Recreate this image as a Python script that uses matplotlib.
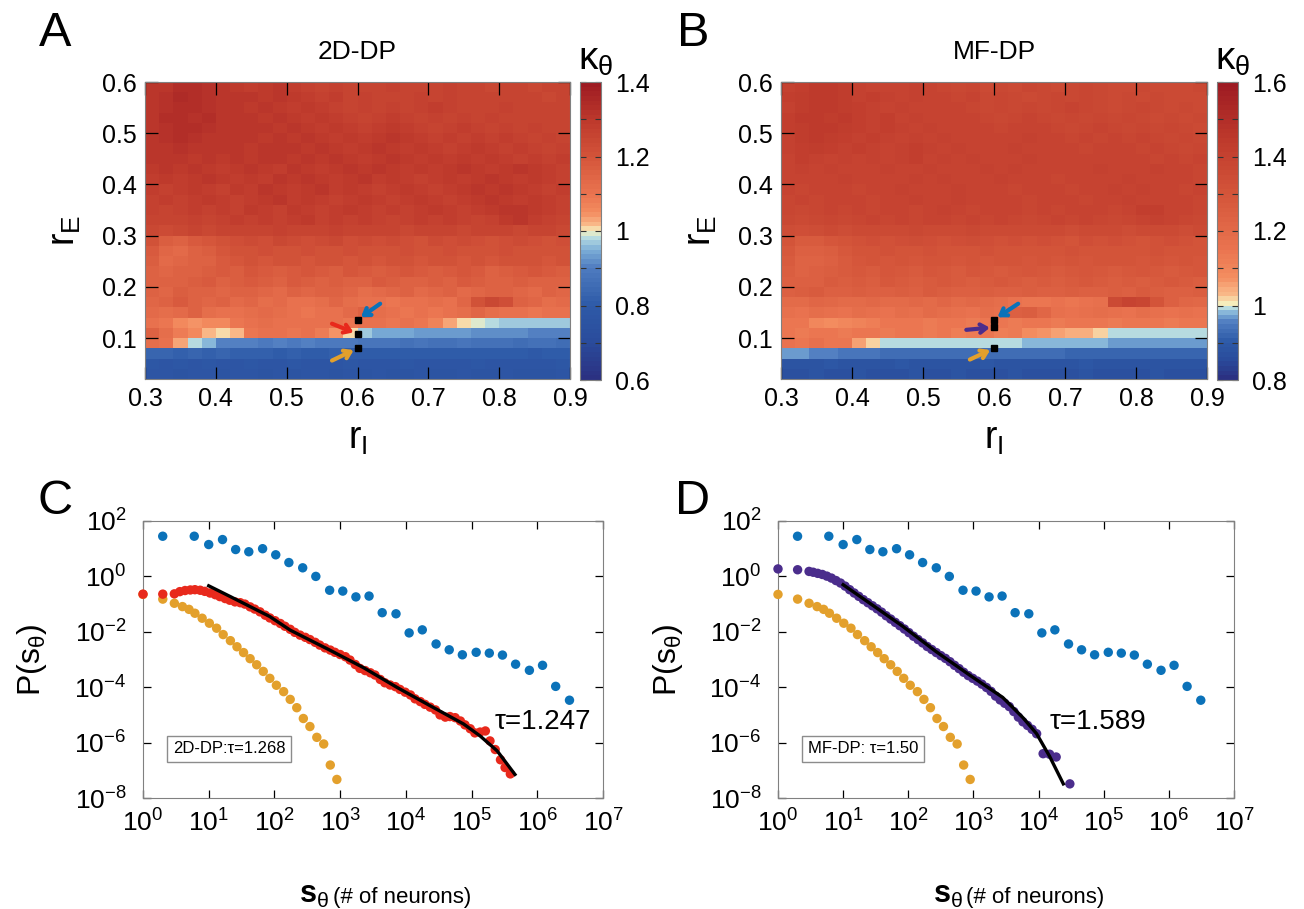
import numpy as np
import matplotlib
matplotlib.use('Agg')
import matplotlib.pyplot as plt
from matplotlib.colors import LinearSegmentedColormap, ListedColormap, Normalize, TwoSlopeNorm
from matplotlib.ticker import FixedLocator

plt.rcParams['font.family'] = ['Liberation Sans', 'DejaVu Sans']
plt.rcParams['mathtext.fontset'] = 'custom'
plt.rcParams['mathtext.rm'] = 'Liberation Sans'
plt.rcParams['mathtext.it'] = 'Liberation Sans'
plt.rcParams['mathtext.bf'] = 'Liberation Sans:bold'
plt.rcParams['mathtext.default'] = 'regular'

# ---------------- heatmap data (rows from r_E=0.02 upwards, cols r_I 0.30 -> 0.90) ----------------
rI_edges = np.linspace(0.30, 0.90, 31)
rE_edges = np.linspace(0.02, 0.60, 30)

kappa_2d_rows = [
    "0.77 0.77 0.76 0.77 0.77 0.76 0.77 0.77 0.76 0.77 0.76 0.77 0.77 0.76 0.77 0.76 0.77 0.76 0.76 0.77 0.76 0.76 0.77 0.76 0.76 0.77 0.76 0.76 0.76 0.77",
    "0.78 0.77 0.78 0.77 0.78 0.77 0.77 0.78 0.77 0.77 0.78 0.77 0.77 0.77 0.78 0.77 0.77 0.77 0.78 0.77 0.77 0.77 0.77 0.78 0.77 0.77 0.77 0.77 0.77 0.78",
    "0.83 0.83 0.82 0.83 0.82 0.83 0.82 0.82 0.82 0.81 0.82 0.81 0.81 0.82 0.81 0.81 0.80 0.81 0.80 0.81 0.80 0.80 0.81 0.80 0.80 0.80 0.80 0.79 0.80 0.80",
    "1.12 1.10 1.03 0.98 0.95 0.90 0.90 0.90 0.89 0.90 0.89 0.90 0.89 0.89 0.89 0.88 0.88 0.88 0.87 0.88 0.87 0.87 0.88 0.87 0.87 0.87 0.86 0.87 0.87 0.86",
    "1.16 1.12 1.08 1.06 1.02 1.00 1.02 1.09 1.10 1.11 1.09 1.10 1.08 1.04 1.00 0.97 0.945 0.94 0.94 0.93 0.93 0.93 0.93 0.92 0.92 0.92 0.92 0.91 0.91 0.91",
    "1.10 1.09 1.05 1.04 1.05 1.06 1.09 1.11 1.12 1.11 1.10 1.11 1.10 1.10 1.09 1.11 1.10 1.09 1.10 1.09 1.07 1.03 1.00 0.99 0.975 0.965 0.965 0.965 0.965 0.965",
    "1.13 1.12 1.13 1.15 1.12 1.10 1.11 1.12 1.13 1.12 1.10 1.09 1.10 1.11 1.13 1.15 1.12 1.10 1.09 1.10 1.09 1.10 1.12 1.14 1.12 1.10 1.11 1.09 1.10 1.10",
    "1.14 1.16 1.18 1.15 1.14 1.15 1.13 1.14 1.12 1.13 1.10 1.11 1.12 1.14 1.12 1.11 1.10 1.09 1.10 1.11 1.12 1.10 1.14 1.21 1.24 1.22 1.16 1.14 1.12 1.13",
    "1.15 1.14 1.17 1.16 1.15 1.14 1.16 1.15 1.14 1.13 1.15 1.14 1.16 1.15 1.14 1.12 1.13 1.14 1.15 1.13 1.14 1.15 1.13 1.14 1.15 1.16 1.14 1.13 1.15 1.14",
    "1.16 1.15 1.15 1.17 1.18 1.16 1.17 1.18 1.17 1.16 1.18 1.17 1.16 1.17 1.15 1.16 1.18 1.17 1.16 1.15 1.17 1.16 1.18 1.17 1.16 1.15 1.17 1.16 1.15 1.16",
    "1.16 1.14 1.15 1.16 1.17 1.18 1.17 1.19 1.18 1.17 1.18 1.19 1.18 1.17 1.19 1.18 1.17 1.18 1.19 1.18 1.17 1.18 1.19 1.18 1.16 1.17 1.18 1.19 1.18 1.17",
    "1.17 1.13 1.14 1.15 1.16 1.18 1.19 1.20 1.19 1.21 1.20 1.19 1.20 1.21 1.19 1.20 1.19 1.21 1.20 1.19 1.20 1.21 1.19 1.20 1.19 1.20 1.21 1.20 1.19 1.20",
    "1.18 1.14 1.13 1.15 1.17 1.19 1.20 1.21 1.22 1.21 1.20 1.22 1.21 1.20 1.22 1.21 1.20 1.21 1.22 1.21 1.20 1.22 1.21 1.20 1.21 1.22 1.20 1.21 1.20 1.21",
    "1.20 1.17 1.16 1.18 1.19 1.21 1.22 1.23 1.22 1.24 1.23 1.22 1.23 1.24 1.22 1.23 1.22 1.23 1.22 1.21 1.23 1.22 1.23 1.22 1.21 1.22 1.23 1.22 1.21 1.22",
    "1.24 1.23 1.24 1.25 1.24 1.25 1.26 1.25 1.26 1.27 1.26 1.25 1.26 1.27 1.25 1.26 1.25 1.26 1.24 1.25 1.26 1.25 1.24 1.25 1.26 1.25 1.24 1.26 1.25 1.24",
    "1.26 1.25 1.26 1.27 1.26 1.27 1.28 1.27 1.28 1.27 1.28 1.29 1.27 1.28 1.27 1.28 1.27 1.26 1.27 1.28 1.27 1.28 1.27 1.26 1.27 1.29 1.30 1.28 1.27 1.26",
    "1.27 1.26 1.27 1.28 1.27 1.28 1.27 1.29 1.28 1.27 1.29 1.28 1.27 1.28 1.29 1.28 1.27 1.28 1.27 1.28 1.29 1.28 1.27 1.28 1.29 1.31 1.31 1.29 1.28 1.27",
    "1.27 1.28 1.27 1.28 1.29 1.28 1.27 1.28 1.29 1.30 1.28 1.29 1.28 1.27 1.28 1.29 1.28 1.27 1.28 1.29 1.28 1.27 1.28 1.29 1.30 1.29 1.28 1.29 1.28 1.27",
    "1.28 1.27 1.28 1.29 1.28 1.27 1.29 1.28 1.30 1.29 1.28 1.29 1.30 1.28 1.29 1.28 1.27 1.28 1.29 1.28 1.27 1.28 1.29 1.30 1.29 1.30 1.29 1.28 1.27 1.28",
    "1.28 1.29 1.28 1.29 1.30 1.29 1.28 1.29 1.28 1.30 1.29 1.30 1.29 1.28 1.29 1.30 1.28 1.29 1.28 1.27 1.28 1.29 1.28 1.29 1.30 1.29 1.28 1.29 1.28 1.27",
    "1.29 1.30 1.29 1.30 1.29 1.28 1.29 1.30 1.29 1.28 1.30 1.29 1.28 1.29 1.30 1.29 1.30 1.29 1.28 1.29 1.28 1.29 1.30 1.29 1.28 1.29 1.30 1.29 1.28 1.27",
    "1.30 1.31 1.30 1.29 1.30 1.29 1.30 1.29 1.30 1.31 1.29 1.30 1.29 1.30 1.29 1.28 1.29 1.30 1.29 1.28 1.29 1.28 1.29 1.28 1.29 1.28 1.27 1.28 1.27 1.28",
    "1.30 1.31 1.32 1.31 1.30 1.31 1.30 1.29 1.30 1.31 1.30 1.29 1.30 1.29 1.28 1.29 1.30 1.29 1.28 1.29 1.28 1.27 1.28 1.29 1.28 1.27 1.28 1.27 1.26 1.27",
    "1.30 1.32 1.33 1.32 1.31 1.30 1.31 1.30 1.29 1.30 1.29 1.30 1.29 1.28 1.29 1.28 1.29 1.30 1.29 1.28 1.27 1.28 1.27 1.28 1.27 1.28 1.27 1.26 1.27 1.26",
    "1.31 1.32 1.33 1.33 1.32 1.31 1.30 1.31 1.30 1.29 1.30 1.29 1.28 1.29 1.28 1.27 1.28 1.29 1.28 1.27 1.26 1.27 1.28 1.27 1.26 1.27 1.26 1.27 1.26 1.25",
    "1.31 1.33 1.33 1.32 1.33 1.31 1.30 1.31 1.29 1.30 1.29 1.28 1.29 1.28 1.27 1.26 1.27 1.28 1.27 1.26 1.27 1.26 1.27 1.26 1.27 1.26 1.25 1.26 1.25 1.26",
    "1.30 1.32 1.33 1.33 1.32 1.31 1.30 1.29 1.30 1.29 1.28 1.29 1.28 1.27 1.26 1.27 1.26 1.27 1.26 1.27 1.28 1.27 1.26 1.25 1.26 1.27 1.26 1.25 1.26 1.25",
    "1.31 1.32 1.34 1.33 1.32 1.30 1.31 1.30 1.29 1.30 1.29 1.28 1.27 1.28 1.26 1.27 1.26 1.25 1.26 1.27 1.26 1.27 1.26 1.25 1.26 1.25 1.26 1.25 1.24 1.25",
    "1.30 1.31 1.33 1.33 1.32 1.30 1.29 1.28 1.29 1.30 1.28 1.27 1.26 1.27 1.25 1.26 1.25 1.27 1.26 1.25 1.26 1.27 1.26 1.25 1.24 1.26 1.25 1.24 1.25 1.26",
]

kappa_mf_rows = [
    "0.87 0.87 0.88 0.87 0.87 0.88 0.87 0.87 0.87 0.88 0.87 0.87 0.88 0.87 0.87 0.87 0.88 0.87 0.87 0.87 0.87 0.88 0.87 0.87 0.87 0.87 0.88 0.87 0.87 0.87",
    "0.88 0.88 0.88 0.89 0.88 0.88 0.88 0.88 0.89 0.88 0.88 0.88 0.88 0.88 0.89 0.88 0.88 0.88 0.88 0.88 0.88 0.89 0.88 0.88 0.88 0.88 0.88 0.88 0.88 0.88",
    "0.972 0.968 0.955 0.952 0.95 0.948 0.94 0.935 0.935 0.932 0.932 0.93 0.93 0.93 0.928 0.928 0.926 0.926 0.925 0.925 0.924 0.922 0.922 0.92 0.92 0.918 0.918 0.916 0.916 0.915",
    "1.16 1.15 1.17 1.15 1.14 1.06 1.02 1.0 1.0 0.996 0.996 0.995 0.996 0.995 0.992 0.99 0.99 0.985 0.984 0.983 0.978 0.977 0.976 0.975 0.97 0.968 0.967 0.966 0.965 0.965",
    "1.14 1.13 1.15 1.14 1.13 1.14 1.15 1.13 1.14 1.15 1.13 1.14 1.12 1.13 1.14 1.12 1.13 1.08 1.07 1.05 1.04 1.04 1.02 1.00 0.996 0.996 0.995 0.99 0.99 0.988",
    "1.15 1.14 1.09 1.08 1.09 1.10 1.12 1.14 1.15 1.14 1.13 1.15 1.14 1.13 1.15 1.14 1.13 1.14 1.15 1.13 1.14 1.15 1.14 1.13 1.14 1.15 1.14 1.13 1.14 1.15",
    "1.17 1.16 1.18 1.17 1.16 1.18 1.17 1.16 1.18 1.17 1.19 1.18 1.17 1.16 1.18 1.17 1.24 1.26 1.22 1.17 1.16 1.17 1.18 1.17 1.16 1.18 1.17 1.16 1.17 1.16",
    "1.19 1.20 1.22 1.21 1.20 1.19 1.21 1.20 1.19 1.21 1.20 1.22 1.20 1.21 1.20 1.18 1.16 1.15 1.15 1.16 1.15 1.16 1.17 1.36 1.40 1.38 1.30 1.24 1.22 1.21",
    "1.24 1.26 1.27 1.25 1.24 1.26 1.25 1.24 1.26 1.25 1.27 1.26 1.25 1.24 1.26 1.25 1.24 1.26 1.25 1.24 1.26 1.25 1.24 1.26 1.25 1.27 1.26 1.25 1.24 1.26",
    "1.25 1.24 1.25 1.27 1.26 1.27 1.26 1.28 1.27 1.26 1.27 1.28 1.27 1.26 1.27 1.28 1.27 1.26 1.27 1.26 1.27 1.28 1.27 1.26 1.27 1.26 1.27 1.28 1.27 1.26",
    "1.26 1.23 1.24 1.26 1.27 1.28 1.27 1.29 1.28 1.27 1.29 1.28 1.27 1.29 1.28 1.27 1.28 1.29 1.28 1.27 1.28 1.29 1.28 1.27 1.28 1.29 1.28 1.27 1.28 1.29",
    "1.27 1.23 1.23 1.25 1.27 1.29 1.30 1.29 1.30 1.29 1.31 1.30 1.29 1.30 1.29 1.30 1.31 1.29 1.30 1.29 1.30 1.29 1.30 1.31 1.30 1.29 1.30 1.29 1.30 1.29",
    "1.28 1.24 1.24 1.26 1.28 1.30 1.31 1.32 1.31 1.30 1.32 1.31 1.30 1.31 1.32 1.31 1.30 1.31 1.30 1.31 1.32 1.31 1.30 1.31 1.30 1.31 1.32 1.31 1.30 1.31",
    "1.30 1.27 1.27 1.29 1.30 1.32 1.33 1.32 1.33 1.34 1.33 1.32 1.33 1.34 1.33 1.32 1.33 1.32 1.33 1.32 1.31 1.33 1.32 1.33 1.32 1.31 1.32 1.33 1.32 1.31",
    "1.34 1.33 1.34 1.35 1.34 1.35 1.36 1.35 1.36 1.37 1.36 1.35 1.36 1.37 1.36 1.35 1.36 1.35 1.36 1.35 1.34 1.35 1.36 1.35 1.34 1.35 1.36 1.35 1.34 1.35",
    "1.37 1.36 1.37 1.38 1.37 1.38 1.39 1.38 1.39 1.38 1.39 1.40 1.38 1.39 1.38 1.39 1.38 1.37 1.38 1.39 1.38 1.39 1.38 1.37 1.38 1.40 1.41 1.39 1.38 1.37",
    "1.38 1.37 1.38 1.39 1.38 1.39 1.38 1.40 1.39 1.38 1.40 1.41 1.39 1.38 1.39 1.40 1.39 1.38 1.39 1.38 1.39 1.40 1.39 1.38 1.40 1.42 1.42 1.40 1.39 1.38",
    "1.38 1.39 1.38 1.39 1.40 1.39 1.38 1.39 1.40 1.41 1.39 1.40 1.41 1.40 1.39 1.40 1.39 1.38 1.39 1.40 1.39 1.38 1.39 1.40 1.41 1.40 1.39 1.40 1.39 1.38",
    "1.39 1.38 1.39 1.40 1.39 1.38 1.40 1.39 1.41 1.40 1.39 1.40 1.41 1.39 1.40 1.39 1.38 1.39 1.40 1.39 1.38 1.39 1.40 1.41 1.40 1.41 1.40 1.39 1.38 1.39",
    "1.39 1.40 1.39 1.40 1.41 1.40 1.39 1.40 1.39 1.41 1.40 1.41 1.40 1.39 1.40 1.41 1.39 1.40 1.39 1.38 1.39 1.40 1.39 1.40 1.41 1.40 1.39 1.40 1.39 1.38",
    "1.40 1.41 1.40 1.41 1.40 1.39 1.40 1.41 1.40 1.39 1.41 1.40 1.39 1.40 1.41 1.40 1.41 1.40 1.39 1.40 1.39 1.40 1.41 1.40 1.39 1.40 1.41 1.40 1.39 1.38",
    "1.40 1.42 1.41 1.40 1.41 1.40 1.41 1.40 1.41 1.42 1.40 1.41 1.40 1.41 1.40 1.39 1.40 1.41 1.40 1.39 1.40 1.39 1.40 1.39 1.40 1.39 1.38 1.39 1.38 1.39",
    "1.41 1.42 1.43 1.42 1.41 1.42 1.41 1.40 1.41 1.42 1.41 1.40 1.41 1.40 1.39 1.40 1.41 1.40 1.39 1.40 1.39 1.38 1.39 1.40 1.39 1.38 1.39 1.38 1.37 1.38",
    "1.41 1.43 1.44 1.43 1.42 1.41 1.42 1.41 1.40 1.41 1.40 1.41 1.40 1.39 1.40 1.39 1.40 1.41 1.40 1.39 1.38 1.39 1.38 1.39 1.38 1.39 1.38 1.37 1.38 1.37",
    "1.42 1.43 1.44 1.44 1.43 1.42 1.41 1.42 1.41 1.40 1.41 1.40 1.39 1.40 1.39 1.38 1.39 1.40 1.39 1.38 1.37 1.38 1.39 1.38 1.37 1.38 1.37 1.38 1.37 1.36",
    "1.42 1.44 1.44 1.43 1.44 1.42 1.41 1.42 1.40 1.41 1.40 1.39 1.40 1.39 1.38 1.37 1.38 1.39 1.38 1.37 1.38 1.37 1.38 1.37 1.38 1.37 1.36 1.37 1.36 1.37",
    "1.41 1.43 1.44 1.44 1.43 1.42 1.41 1.40 1.41 1.40 1.39 1.40 1.39 1.38 1.37 1.38 1.37 1.38 1.37 1.38 1.39 1.38 1.37 1.36 1.37 1.38 1.37 1.36 1.37 1.36",
    "1.42 1.43 1.45 1.44 1.43 1.41 1.42 1.41 1.40 1.41 1.40 1.39 1.38 1.39 1.37 1.38 1.37 1.36 1.37 1.38 1.37 1.38 1.37 1.36 1.37 1.36 1.37 1.36 1.35 1.36",
    "1.41 1.42 1.44 1.44 1.43 1.41 1.40 1.39 1.40 1.41 1.39 1.38 1.37 1.38 1.36 1.37 1.36 1.38 1.37 1.36 1.37 1.38 1.37 1.36 1.35 1.37 1.36 1.35 1.36 1.37",
]

kappa_2d = np.array([[float(v) for v in r.split()] for r in kappa_2d_rows])
kappa_mf = np.array([[float(v) for v in r.split()] for r in kappa_mf_rows])

# marked points (r_I, r_E) and arrow tails
mark_rI = [0.6, 0.6, 0.6]
mark_rE_2d = [0.136, 0.108, 0.080]
mark_rE_mf = [0.136, 0.121, 0.080]
tail_2d = [(0.632, 0.167), (0.564, 0.128), (0.564, 0.056)]
tail_mf = [(0.634, 0.167), (0.561, 0.116), (0.566, 0.058)]

# ---------------- avalanche size distributions (log10 values) ----------------
blue_lx = [0.30, 0.78, 1.00, 1.21, 1.41, 1.61, 1.82, 2.02, 2.22, 2.43, 2.63, 2.84, 3.04, 3.24, 3.44,
           3.64, 3.85, 4.05, 4.25, 4.46, 4.66, 4.86, 5.07, 5.27, 5.47, 5.67, 5.88, 6.08, 6.28, 6.49]
blue_ly = [1.45, 1.45, 1.15, 1.33, 0.97, 0.89, 1.00, 0.78, 0.50, 0.31, 0.00, -0.50, -0.53, -0.74, -0.71,
           -1.31, -1.35, -2.04, -1.93, -2.44, -2.65, -2.83, -2.74, -2.77, -2.84, -3.17, -3.39, -3.21, -3.97, -4.47]

orange_lx = [0.0, 0.301, 0.477, 0.60, 0.70, 0.79, 0.90, 1.01, 1.12, 1.22, 1.33, 1.43, 1.53, 1.63,
             1.73, 1.83, 1.93, 2.03, 2.14, 2.24, 2.34, 2.44, 2.54, 2.645, 2.75, 2.85, 2.95]
orange_ly = [-0.65, -0.82, -0.97, -1.09, -1.19, -1.33, -1.51, -1.69, -1.87, -2.10, -2.32, -2.54, -2.75, -2.97,
             -3.19, -3.43, -3.68, -3.93, -4.16, -4.44, -4.74, -5.13, -5.42, -5.81, -6.05, -6.81, -7.33]

red_lx = [0.0, 0.301, 0.477, 0.56, 0.64, 0.72, 0.79, 0.87, 0.94, 1.02, 1.10, 1.17, 1.25, 1.32, 1.40, 1.48,
          1.55, 1.63, 1.70, 1.78, 1.86, 1.93, 2.01, 2.09, 2.16, 2.24, 2.31, 2.39, 2.47, 2.54, 2.62, 2.69,
          2.77, 2.85, 2.92, 3.00, 3.08, 3.15, 3.23, 3.30, 3.38, 3.46, 3.53, 3.61, 3.68, 3.76, 3.84, 3.91,
          3.99, 4.07, 4.14, 4.22, 4.29, 4.37, 4.45, 4.52, 4.60, 4.67, 4.75, 4.83, 4.90, 4.98, 5.05, 5.13,
          5.21, 5.28, 5.36, 5.44, 5.51, 5.59]
red_ly = [-0.64, -0.64, -0.63, -0.55, -0.51, -0.49, -0.48, -0.50, -0.54, -0.60, -0.66, -0.73, -0.80, -0.86,
          -0.92, -0.95, -1.00, -1.10, -1.18, -1.28, -1.40, -1.50, -1.60, -1.70, -1.80, -1.91, -2.02, -2.12,
          -2.20, -2.28, -2.38, -2.48, -2.58, -2.66, -2.74, -2.82, -2.90, -3.02, -3.18, -3.32, -3.40, -3.48,
          -3.56, -3.72, -3.84, -3.92, -3.98, -4.08, -4.18, -4.28, -4.42, -4.52, -4.62, -4.72, -4.82, -5.00,
          -5.08, -5.06, -5.10, -5.22, -5.36, -5.50, -5.65, -5.62, -5.58, -5.94, -6.25, -6.62, -6.90, -7.13]

purple_lx = [0.0, 0.301, 0.477, 0.54, 0.61, 0.68, 0.75, 0.82, 0.89, 0.96, 1.03, 1.10, 1.17, 1.24, 1.31,
             1.38, 1.45, 1.52, 1.59, 1.66, 1.73, 1.80, 1.87, 1.94, 2.01, 2.08, 2.15, 2.22, 2.29, 2.36, 2.43,
             2.50, 2.57, 2.64, 2.71, 2.78, 2.85, 2.92, 2.99, 3.06, 3.13, 3.20, 3.27, 3.34, 3.41, 3.48, 3.55,
             3.62, 3.69, 3.76, 3.83, 3.90, 3.97, 4.07, 4.17, 4.27, 4.48]
purple_ly = [0.27, 0.24, 0.18, 0.15, 0.11, 0.07, 0.01, -0.06, -0.15, -0.24, -0.35, -0.48, -0.60, -0.72, -0.84,
             -0.95, -1.06, -1.17, -1.29, -1.42, -1.54, -1.66, -1.78, -1.90, -2.03, -2.16, -2.28, -2.40, -2.53,
             -2.64, -2.75, -2.86, -2.96, -3.08, -3.21, -3.33, -3.46, -3.58, -3.68, -3.78, -3.89, -4.01, -4.15,
             -4.32, -4.46, -4.58, -4.70, -4.88, -5.08, -5.25, -5.38, -5.52, -5.68, -6.40, -6.42, -6.52, -7.49]

fit_2d_lx = [1.00, 1.33, 1.93, 2.24, 2.85, 3.36, 3.86, 4.37, 4.88, 5.13, 5.39, 5.66]
fit_2d_ly = [-0.34, -0.73, -1.45, -1.94, -2.67, -3.30, -4.00, -4.67, -5.33, -5.76, -6.30, -7.15]
fit_mf_lx = [1.00, 1.41, 1.92, 2.43, 2.94, 3.45, 3.76, 3.97, 4.17, 4.38]
fit_mf_ly = [-0.30, -0.97, -1.81, -2.72, -3.56, -4.37, -5.10, -5.68, -6.50, -7.49]

c_blue = '#0b72b9'
c_red = '#e8291c'
c_orange = '#e3a02c'
c_purple = '#4b2d8c'

# ---------------- colormap ----------------
base = LinearSegmentedColormap.from_list('kappa', [
    (0.0, '#2b3182'), (0.125, '#2a4c9c'), (0.25, '#2e5ba8'), (0.375, '#4f7cc0'),
    (0.4375, '#7fb0d8'), (0.475, '#b8dce0'), (0.5, '#f6f2c0'), (0.525, '#f9b888'),
    (0.5625, '#f38d60'), (0.625, '#ea7450'), (0.75, '#d4553a'), (0.875, '#be3a2c'),
    (1.0, '#9e1b22')])


def panel_cmap(vmin, vmax):
    lev = np.linspace(vmin, vmax, 64)
    return ListedColormap(base(TwoSlopeNorm(1.0, vmin, vmax)(lev)))


W, H = 1304, 909
fig = plt.figure(figsize=(W / 100, H / 100), dpi=100)


def fbox(x0, y0, x1, y1):
    return [x0 / W, 1 - y1 / H, (x1 - x0) / W, (y1 - y0) / H]


def heat_panel(rect, crect, data, vmin, vmax, cticks, title, tx, mrE, tails, mid_color):
    ax = fig.add_axes(fbox(*rect))
    m = ax.pcolormesh(rI_edges, rE_edges, data, cmap=panel_cmap(vmin, vmax),
                      norm=Normalize(vmin, vmax), shading='flat')
    ax.set_xlim(0.3, 0.9)
    ax.set_ylim(0.02, 0.6)
    ax.set_xticks([0.3, 0.4, 0.5, 0.6, 0.7, 0.8, 0.9])
    ax.set_xticklabels(['0.3', '0.4', '0.5', '0.6', '0.7', '0.8', '0.9'])
    ax.set_yticks([0.1, 0.2, 0.3, 0.4, 0.5, 0.6])
    ax.set_yticklabels(['0.1', '0.2', '0.3', '0.4', '0.5', '0.6'])
    ax.tick_params(direction='in', top=True, right=True, length=9, width=0.9,
                   labelsize=18, pad=6)
    for s in ax.spines.values():
        s.set_color('#808080')
    ax.set_xlabel('$r_I$', fontsize=27)
    ax.set_ylabel('$r_E$', fontsize=27)
    ax.xaxis.set_label_coords(0.5, -0.14)
    ax.yaxis.set_label_coords(-0.145, 0.5)
    # markers and arrows
    ax.plot(mark_rI, mrE, 's', color='black', ms=3.8, zorder=5)
    cols = [c_blue, mid_color, c_orange]
    for (tx0, ty0), hx, hy, c in zip(tails, mark_rI, mrE, cols):
        ax.annotate('', xy=(hx, hy), xytext=(tx0, ty0),
                    arrowprops=dict(arrowstyle='->,head_length=0.45,head_width=0.3',
                                    lw=3, color=c, shrinkA=0, shrinkB=3), zorder=6)
    cax = fig.add_axes(fbox(*crect))
    cb = fig.colorbar(m, cax=cax)
    cb.set_ticks(cticks)
    cb.set_ticklabels([('%g' % t) for t in cticks])
    cb.ax.yaxis.set_minor_locator(FixedLocator([t + 0.1 for t in cticks[:-1]]))
    cb.ax.tick_params(which='both', direction='in', left=True, right=True, length=4,
                      width=0.8, color='#333333', labelsize=18, pad=10)
    cb.outline.set_edgecolor('#808080')
    fig.text(tx / W, 1 - 52 / H, title, ha='center', va='center', fontsize=19)
    return ax


heat_panel((145, 82, 570, 379), (580, 82, 601, 380), kappa_2d, 0.6, 1.4,
           [0.6, 0.8, 1.0, 1.2, 1.4], '2D-DP', 357, mark_rE_2d, tail_2d, c_red)
heat_panel((781, 82, 1207, 379), (1217, 82, 1238, 380), kappa_mf, 0.8, 1.6,
           [0.8, 1.0, 1.2, 1.4, 1.6], 'MF-DP', 994, mark_rE_mf, tail_mf, c_purple)

fig.text(596 / W, 1 - 60 / H, r'$\kappa_\theta$', ha='center', va='center', fontsize=28)
fig.text(1233 / W, 1 - 60 / H, r'$\kappa_\theta$', ha='center', va='center', fontsize=28)


def dist_panel(rect, series, fit_lx, fit_ly, tau_text, tau_pos, box_text):
    ax = fig.add_axes(fbox(*rect))
    for lx, ly, c in series:
        ax.scatter(10 ** np.array(lx), 10 ** np.array(ly), s=46, color=c,
                   edgecolors='none', zorder=3, clip_on=False)
    ax.plot(10 ** np.array(fit_lx), 10 ** np.array(fit_ly), color='black', lw=2.4, zorder=4)
    ax.set_xscale('log')
    ax.set_yscale('log')
    ax.set_xlim(1, 1e7)
    ax.set_ylim(1e-8, 1e2)
    ax.set_xticks([10.0 ** k for k in range(8)])
    ax.set_xticklabels(['$10^{%d}$' % k for k in range(8)])
    ax.set_yticks([10.0 ** k for k in range(-8, 3, 2)])
    ax.set_yticklabels(['$10^{%d}$' % k for k in range(-8, 3, 2)])
    ax.minorticks_off()
    ax.tick_params(direction='in', top=True, right=True, length=6, width=0.9,
                   labelsize=19, pad=8)
    ax.tick_params(axis='y', pad=12)
    for s in ax.spines.values():
        s.set_color('#808080')
    ax.set_ylabel(r'$P(s_\theta)$', fontsize=23)
    ax.yaxis.set_label_coords(-0.205, 0.5)
    # x label: large bold s with subscript, then smaller plain text
    ax.text(0.405, -0.378, r'$\mathbf{s}_\theta$', transform=ax.transAxes, ha='right',
            va='baseline', fontsize=22)
    ax.text(0.413, -0.378, '(# of neurons)', transform=ax.transAxes, ha='left',
            va='baseline', fontsize=16)
    ax.text(tau_pos[0], tau_pos[1], tau_text, transform=ax.transAxes, ha='center',
            va='center', fontsize=20)
    ax.text(0.187, 0.177, box_text, transform=ax.transAxes, ha='center', va='center',
            fontsize=12, bbox=dict(boxstyle='square,pad=0.35', fc='white', ec='#8c8c8c', lw=1))
    return ax


dist_panel((143, 521, 603, 798),
           [(orange_lx, orange_ly, c_orange), (blue_lx, blue_ly, c_blue), (red_lx, red_ly, c_red)],
           fit_2d_lx, fit_2d_ly, 'τ=1.247', (0.870, 0.274), '2D-DP:τ=1.268')
dist_panel((778, 521, 1234, 798),
           [(orange_lx, orange_ly, c_orange), (blue_lx, blue_ly, c_blue), (purple_lx, purple_ly, c_purple)],
           fit_mf_lx, fit_mf_ly, 'τ=1.589', (0.702, 0.274), 'MF-DP: τ=1.50')

for lab, x, y in [('A', 55, 33), ('B', 693, 33), ('C', 55, 502), ('D', 693, 502)]:
    fig.text(x / W, 1 - y / H, lab, ha='center', va='center', fontsize=35)

fig.savefig('out.png', dpi=100)
